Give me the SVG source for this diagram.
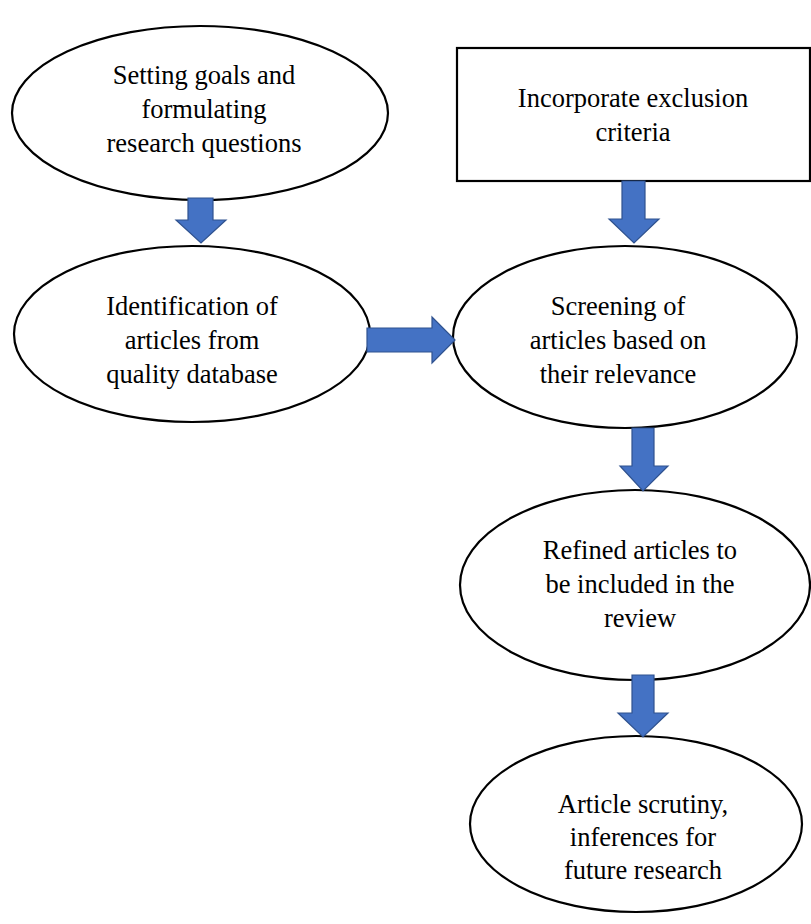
<svg xmlns="http://www.w3.org/2000/svg" width="811" height="924" viewBox="0 0 811 924">
<style>
.node{fill:#fff;stroke:#000;stroke-width:2.2}
.lbl{font-family:"Liberation Serif","Times New Roman",serif;font-size:26.5px;fill:#000;text-anchor:middle}
.arr{fill:#4472C4;stroke:#2F528F;stroke-width:1.2;stroke-linejoin:miter}
</style>
<rect width="811" height="924" fill="#fff"/>
<g id="n1"><ellipse class="node" cx="200" cy="113" rx="188" ry="87"/>
<text class="lbl" x="204" y="84">Setting goals and</text>
<text class="lbl" x="204" y="118">formulating</text>
<text class="lbl" x="204" y="152">research questions</text></g>
<g id="n2"><ellipse class="node" cx="192" cy="334" rx="178" ry="88"/>
<text class="lbl" x="192" y="315">Identification of</text>
<text class="lbl" x="192" y="349">articles from</text>
<text class="lbl" x="192" y="383">quality database</text></g>
<g id="n3"><rect class="node" x="457" y="48" width="353" height="133"/>
<text class="lbl" x="633" y="107">Incorporate exclusion</text>
<text class="lbl" x="633" y="141">criteria</text></g>
<g id="n4"><ellipse class="node" cx="625" cy="337" rx="172" ry="91"/>
<text class="lbl" x="618" y="315">Screening of</text>
<text class="lbl" x="618" y="349">articles based on</text>
<text class="lbl" x="618" y="383">their relevance</text></g>
<g id="n5"><ellipse class="node" cx="635" cy="585" rx="175" ry="95"/>
<text class="lbl" x="640" y="559">Refined articles to</text>
<text class="lbl" x="640" y="593">be included in the</text>
<text class="lbl" x="640" y="627">review</text></g>
<g id="n6"><ellipse class="node" cx="636" cy="824" rx="166" ry="88"/>
<text class="lbl" x="643" y="813">Article scrutiny,</text>
<text class="lbl" x="643" y="846">inferences for</text>
<text class="lbl" x="643" y="879">future research</text></g>
<g id="connectors">
<polygon class="arr" points="188,198 213,198 213,220 226,220 201,243 176,220 188,220"/>
<polygon class="arr" points="367,328 432,328 432,317 455,340 432,363 432,352 367,352"/>
<polygon class="arr" points="622,181 645,181 645,219 659,219 634,243 609,219 622,219"/>
<polygon class="arr" points="632,428 654,428 654,466 668,466 643,491 620,466 632,466"/>
<polygon class="arr" points="632,675 654,675 654,713 668,713 643,737 618,713 632,713"/>
</g>
</svg>
